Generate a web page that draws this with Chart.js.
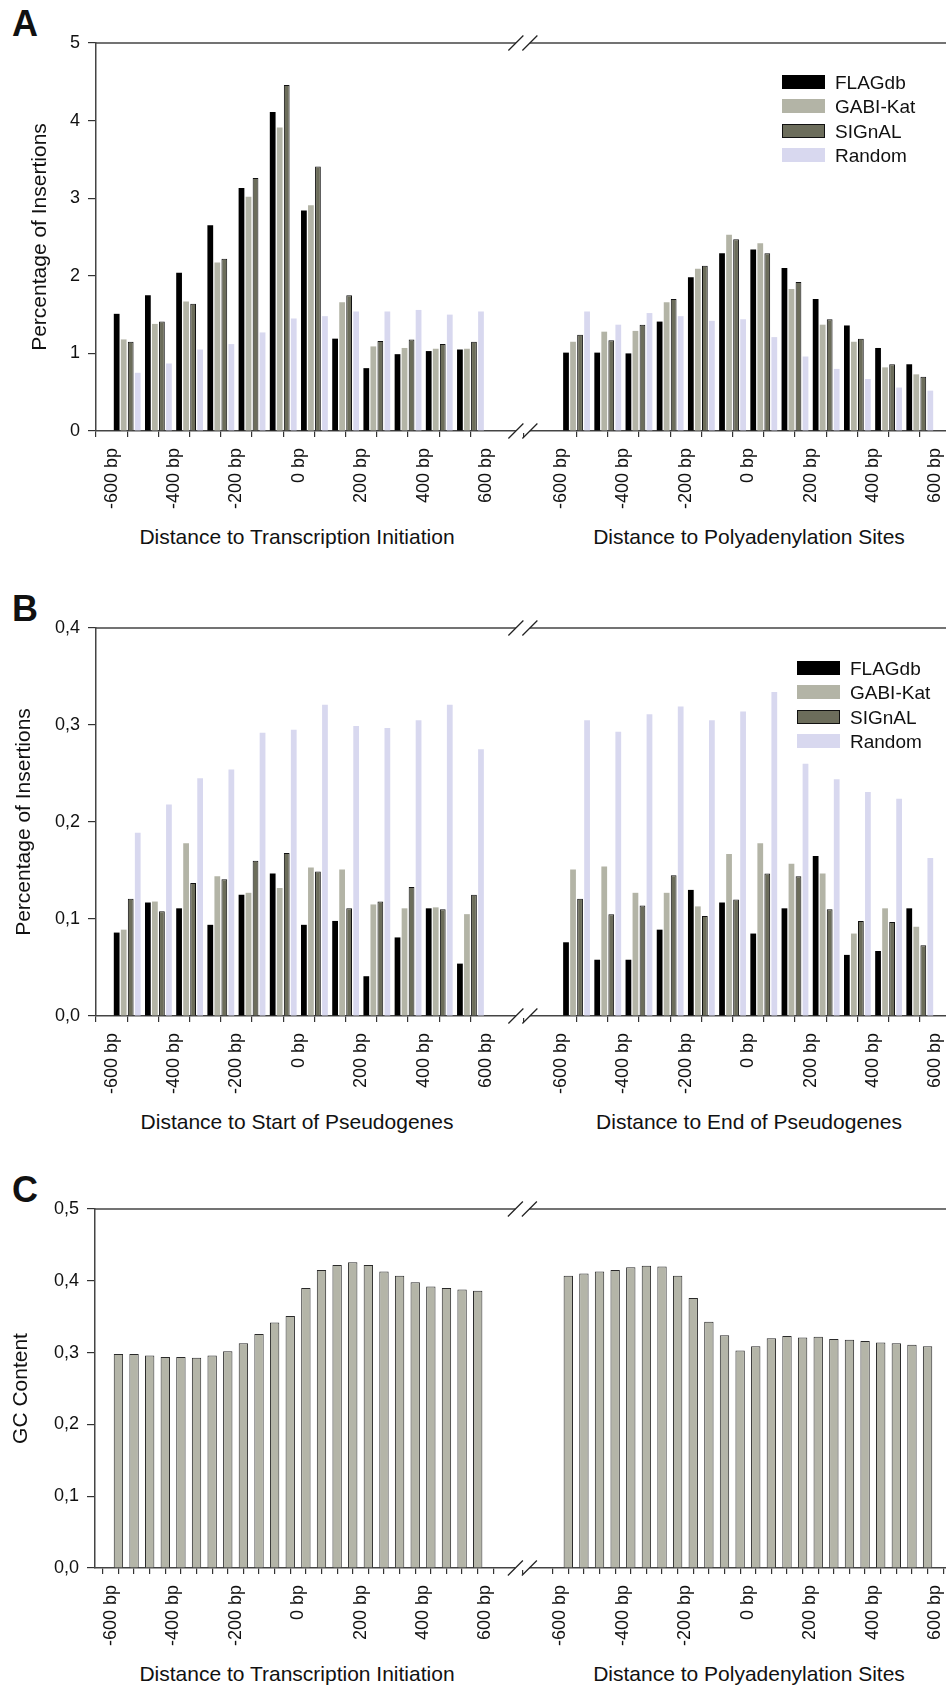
<!DOCTYPE html>
<html>
<head>
<meta charset="utf-8">
<script src="https://cdn.jsdelivr.net/npm/chart.js@4.4.1/dist/chart.umd.min.js"></script>
<style>
  body { margin: 0; background: #fff; overflow: hidden; }
  #page { position: relative; width: 946px; height: 1688px; font-family: "Liberation Sans", Arial, sans-serif; color: #111; }
  canvas { position: absolute; left: 0; }
  .letter { position: absolute; left: 12px; font-size: 36px; font-weight: bold; line-height: 36px; }
  .xtitle { position: absolute; width: 440px; text-align: center; font-size: 21px; line-height: 21px; white-space: nowrap; }
  .legend { position: absolute; font-size: 19px; line-height: 19px; }
  .legend .row { position: relative; height: 24.4px; }
  .legend .box { position: absolute; left: 0; top: 0; width: 43px; height: 14px; box-sizing: border-box; }
  .legend .lbl { position: absolute; left: 53px; top: -2px; white-space: nowrap; }
</style>
</head>
<body>
<div id="page">
  <div class="letter" style="top:6px">A</div>
  <div class="letter" style="top:591px">B</div>
  <div class="letter" style="top:1172px">C</div>

  <canvas id="chartA" width="946" height="520" style="top:0px"></canvas>
  <canvas id="chartB" width="946" height="520" style="top:585px"></canvas>
  <canvas id="chartC" width="946" height="491" style="top:1166px"></canvas>

  <div class="xtitle" style="left:77px;top:526px">Distance to Transcription Initiation</div>
  <div class="xtitle" style="left:529px;top:526px">Distance to Polyadenylation Sites</div>
  <div class="xtitle" style="left:77px;top:1111px">Distance to Start of Pseudogenes</div>
  <div class="xtitle" style="left:529px;top:1111px">Distance to End of Pseudogenes</div>
  <div class="xtitle" style="left:77px;top:1663px">Distance to Transcription Initiation</div>
  <div class="xtitle" style="left:529px;top:1663px">Distance to Polyadenylation Sites</div>

  <div class="legend" id="legendA" style="left:782px;top:75px"></div>
  <div class="legend" id="legendB" style="left:797px;top:661px"></div>
</div>

<script>
// series
const seriesNames = ['FLAGdb', 'GABI-Kat', 'SIGnAL', 'Random'];
const seriesColors = ['#000000', '#b3b4a6', '#6c6d5b', '#d8d8ef'];
const seriesBorders = [0, 0, 1, 0];

// bin centres (bp) for panels A and B (100 bp bins) and C (50 bp bins)
const binsAB = [-550, -450, -350, -250, -150, -50, 50, 150, 250, 350, 450, 550];
const binsC = [-575, -525, -475, -425, -375, -325, -275, -225, -175, -125, -75, -25,
               25, 75, 125, 175, 225, 275, 325, 375, 425, 475, 525, 575];

// axis ticks
const ticksAB = [-600, -500, -400, -300, -200, -100, 0, 100, 200, 300, 400, 500, 600];
const ticksC = [-650, -600, -550, -500, -450, -400, -350, -300, -250, -200, -150, -100, -50,
                0, 50, 100, 150, 200, 250, 300, 350, 400, 450, 500, 550, 600, 650];
const labelAt = [-600, -400, -200, 0, 200, 400, 600];
const tickLabels = ['-600 bp', '-400 bp', '-200 bp', '0 bp', '200 bp', '400 bp', '600 bp'];

// A: transcription initiation
const aStartFLAGdb = [1.51, 1.75, 2.04, 2.65, 3.13, 4.11, 2.84, 1.19, 0.81, 0.99, 1.03, 1.05];
const aStartGABI   = [1.18, 1.38, 1.67, 2.17, 3.02, 3.91, 2.91, 1.66, 1.09, 1.07, 1.06, 1.06];
const aStartSIGnAL = [1.15, 1.41, 1.64, 2.22, 3.26, 4.46, 3.41, 1.75, 1.16, 1.18, 1.12, 1.15];
const aStartRandom = [0.75, 0.87, 1.05, 1.12, 1.27, 1.45, 1.48, 1.54, 1.54, 1.56, 1.50, 1.54];
// A: polyadenylation sites
const aEndFLAGdb = [1.01, 1.01, 1.00, 1.41, 1.98, 2.29, 2.34, 2.10, 1.70, 1.36, 1.07, 0.86];
const aEndGABI   = [1.15, 1.28, 1.29, 1.66, 2.09, 2.53, 2.42, 1.83, 1.37, 1.15, 0.82, 0.73];
const aEndSIGnAL = [1.24, 1.17, 1.37, 1.70, 2.13, 2.47, 2.29, 1.92, 1.44, 1.19, 0.86, 0.70];
const aEndRandom = [1.54, 1.37, 1.52, 1.48, 1.42, 1.44, 1.21, 0.96, 0.80, 0.67, 0.56, 0.52];

// B: start of pseudogenes
const bStartFLAGdb = [0.086, 0.117, 0.111, 0.094, 0.125, 0.147, 0.094, 0.098, 0.041, 0.081, 0.111, 0.054];
const bStartGABI   = [0.089, 0.118, 0.178, 0.144, 0.127, 0.132, 0.153, 0.151, 0.115, 0.111, 0.112, 0.105];
const bStartSIGnAL = [0.121, 0.108, 0.137, 0.141, 0.160, 0.168, 0.149, 0.111, 0.118, 0.133, 0.110, 0.125];
const bStartRandom = [0.189, 0.218, 0.245, 0.254, 0.292, 0.295, 0.321, 0.299, 0.297, 0.305, 0.321, 0.275];
// B: end of pseudogenes
const bEndFLAGdb = [0.076, 0.058, 0.058, 0.089, 0.130, 0.117, 0.085, 0.111, 0.165, 0.063, 0.067, 0.111];
const bEndGABI   = [0.151, 0.154, 0.127, 0.127, 0.113, 0.167, 0.178, 0.157, 0.147, 0.085, 0.111, 0.092];
const bEndSIGnAL = [0.121, 0.105, 0.114, 0.145, 0.103, 0.120, 0.147, 0.144, 0.110, 0.098, 0.097, 0.073];
const bEndRandom = [0.305, 0.293, 0.311, 0.319, 0.305, 0.314, 0.334, 0.260, 0.244, 0.231, 0.224, 0.163];

// C: GC content
const cStartGC = [0.298, 0.298, 0.296, 0.294, 0.294, 0.293, 0.296, 0.302, 0.313, 0.326, 0.342, 0.351,
                  0.390, 0.415, 0.422, 0.426, 0.422, 0.413, 0.407, 0.398, 0.392, 0.390, 0.388, 0.386];
const cEndGC = [0.407, 0.410, 0.413, 0.415, 0.419, 0.421, 0.420, 0.407, 0.376, 0.343, 0.324, 0.303,
                0.309, 0.320, 0.323, 0.321, 0.322, 0.319, 0.318, 0.316, 0.314, 0.313, 0.311, 0.309];

// the right half of each panel is drawn on the same axis, shifted past the break
const RIGHT_OFFSET = 1440;
const BREAK_AT = 718;
const X_MIN = -650;
const X_MAX = 2074;

Chart.defaults.font.family = '"Liberation Sans", Arial, sans-serif';
Chart.defaults.color = '#111';

function points(bins, left, right) {
    return bins.map((x, i) => ({ x: x, y: left[i] }))
        .concat(bins.map((x, i) => ({ x: x + RIGHT_OFFSET, y: right[i] })));
}

function bothSides(ticks) {
    return ticks.concat(ticks.map(t => t + RIGHT_OFFSET)).filter(t => t <= X_MAX);
}

const axisBreak = {
    id: 'axisBreak',
    afterDraw(chart) {
        const { ctx, chartArea: a, scales: { x } } = chart;
        const bx = x.getPixelForValue(BREAK_AT);
        ctx.save();
        ctx.strokeStyle = '#444';
        ctx.lineWidth = 1.5;
        ctx.beginPath();
        ctx.moveTo(a.left, a.top);
        ctx.lineTo(a.right, a.top);
        ctx.stroke();
        [a.top, a.bottom].forEach(y => {
            ctx.fillStyle = '#fff';
            ctx.fillRect(bx - 7, y - 2, 14, 4);
            ctx.strokeStyle = '#222';
            ctx.lineWidth = 1.2;
            [-7, 7].forEach(dx => {
                ctx.beginPath();
                ctx.moveTo(bx + dx - 7.5, y + 7.5);
                ctx.lineTo(bx + dx + 7.5, y - 7.5);
                ctx.stroke();
            });
        });
        ctx.restore();
    }
};

function makeChart(id, datasets, opts) {
    const tickValues = bothSides(opts.ticks);
    return new Chart(document.getElementById(id), {
        type: 'bar',
        data: { datasets: datasets },
        options: {
            responsive: false,
            animation: false,
            devicePixelRatio: 1,
            layout: { padding: { top: 43, right: 0, bottom: 0, left: 0 } },
            plugins: { legend: { display: false }, tooltip: { enabled: false } },
            scales: {
                x: {
                    type: 'linear',
                    min: X_MIN,
                    max: X_MAX,
                    offset: false,
                    afterBuildTicks: s => { s.ticks = tickValues.map(v => ({ value: v })); },
                    afterFit: s => { s.height = 89; s.paddingLeft = 0; s.paddingRight = 0; },
                    grid: { drawOnChartArea: false, drawTicks: true, tickLength: 6, color: '#333', lineWidth: 1.2 },
                    border: { display: true, color: '#444', width: 1.5 },
                    ticks: {
                        autoSkip: false,
                        minRotation: 90,
                        maxRotation: 90,
                        padding: 11,
                        font: { size: 18 },
                        callback: v => {
                            const local = v > BREAK_AT ? v - RIGHT_OFFSET : v;
                            const i = labelAt.indexOf(local);
                            return i >= 0 ? tickLabels[i] : '';
                        }
                    }
                },
                y: {
                    min: 0,
                    max: opts.yMax,
                    afterFit: s => { s.width = opts.yWidth; s.paddingTop = 0; s.paddingBottom = 0; },
                    grid: { drawOnChartArea: false, drawTicks: true, tickLength: 8, color: '#333', lineWidth: 1.2 },
                    border: { display: true, color: '#444', width: 1.5 },
                    ticks: { stepSize: opts.yStep, padding: 8, font: { size: 18 }, callback: opts.yFormat },
                    title: { display: true, text: opts.yTitle, font: { size: 21 }, padding: { top: opts.titlePad, bottom: 0 } }
                }
            }
        },
        plugins: [axisBreak]
    });
}

function insertionSets(left, right) {
    return seriesNames.map((name, k) => ({
        label: name,
        data: points(binsAB, left[k], right[k]),
        backgroundColor: seriesColors[k],
        borderColor: '#111',
        borderWidth: seriesBorders[k],
        categoryPercentage: 0.9,
        barPercentage: 0.82
    }));
}

function makeLegend(id) {
    const el = document.getElementById(id);
    seriesNames.forEach((name, k) => {
        const row = document.createElement('div');
        row.className = 'row';
        row.innerHTML = `<div class="box" style="background:${seriesColors[k]};border:${seriesBorders[k] ? '1px solid #111' : 'none'}"></div>
                         <div class="lbl">${name}</div>`;
        el.appendChild(row);
    });
}

makeChart('chartA',
    insertionSets([aStartFLAGdb, aStartGABI, aStartSIGnAL, aStartRandom],
                  [aEndFLAGdb, aEndGABI, aEndSIGnAL, aEndRandom]),
    { ticks: ticksAB, yMax: 5, yStep: 1, yWidth: 96, titlePad: 28,
      yFormat: v => String(v), yTitle: 'Percentage of Insertions' });

makeChart('chartB',
    insertionSets([bStartFLAGdb, bStartGABI, bStartSIGnAL, bStartRandom],
                  [bEndFLAGdb, bEndGABI, bEndSIGnAL, bEndRandom]),
    { ticks: ticksAB, yMax: 0.4, yStep: 0.1, yWidth: 96, titlePad: 12,
      yFormat: v => v.toFixed(1).replace('.', ','), yTitle: 'Percentage of Insertions' });

makeChart('chartC',
    [{
        label: 'GC Content',
        data: points(binsC, cStartGC, cEndGC),
        backgroundColor: '#b4b5a8',
        borderColor: '#2a2a2a',
        borderWidth: 1,
        categoryPercentage: 1,
        barPercentage: 0.6
    }],
    { ticks: ticksC, yMax: 0.5, yStep: 0.1, yWidth: 95, titlePad: 9,
      yFormat: v => v.toFixed(1).replace('.', ','), yTitle: 'GC Content' });

makeLegend('legendA');
makeLegend('legendB');
</script>
</body>
</html>
